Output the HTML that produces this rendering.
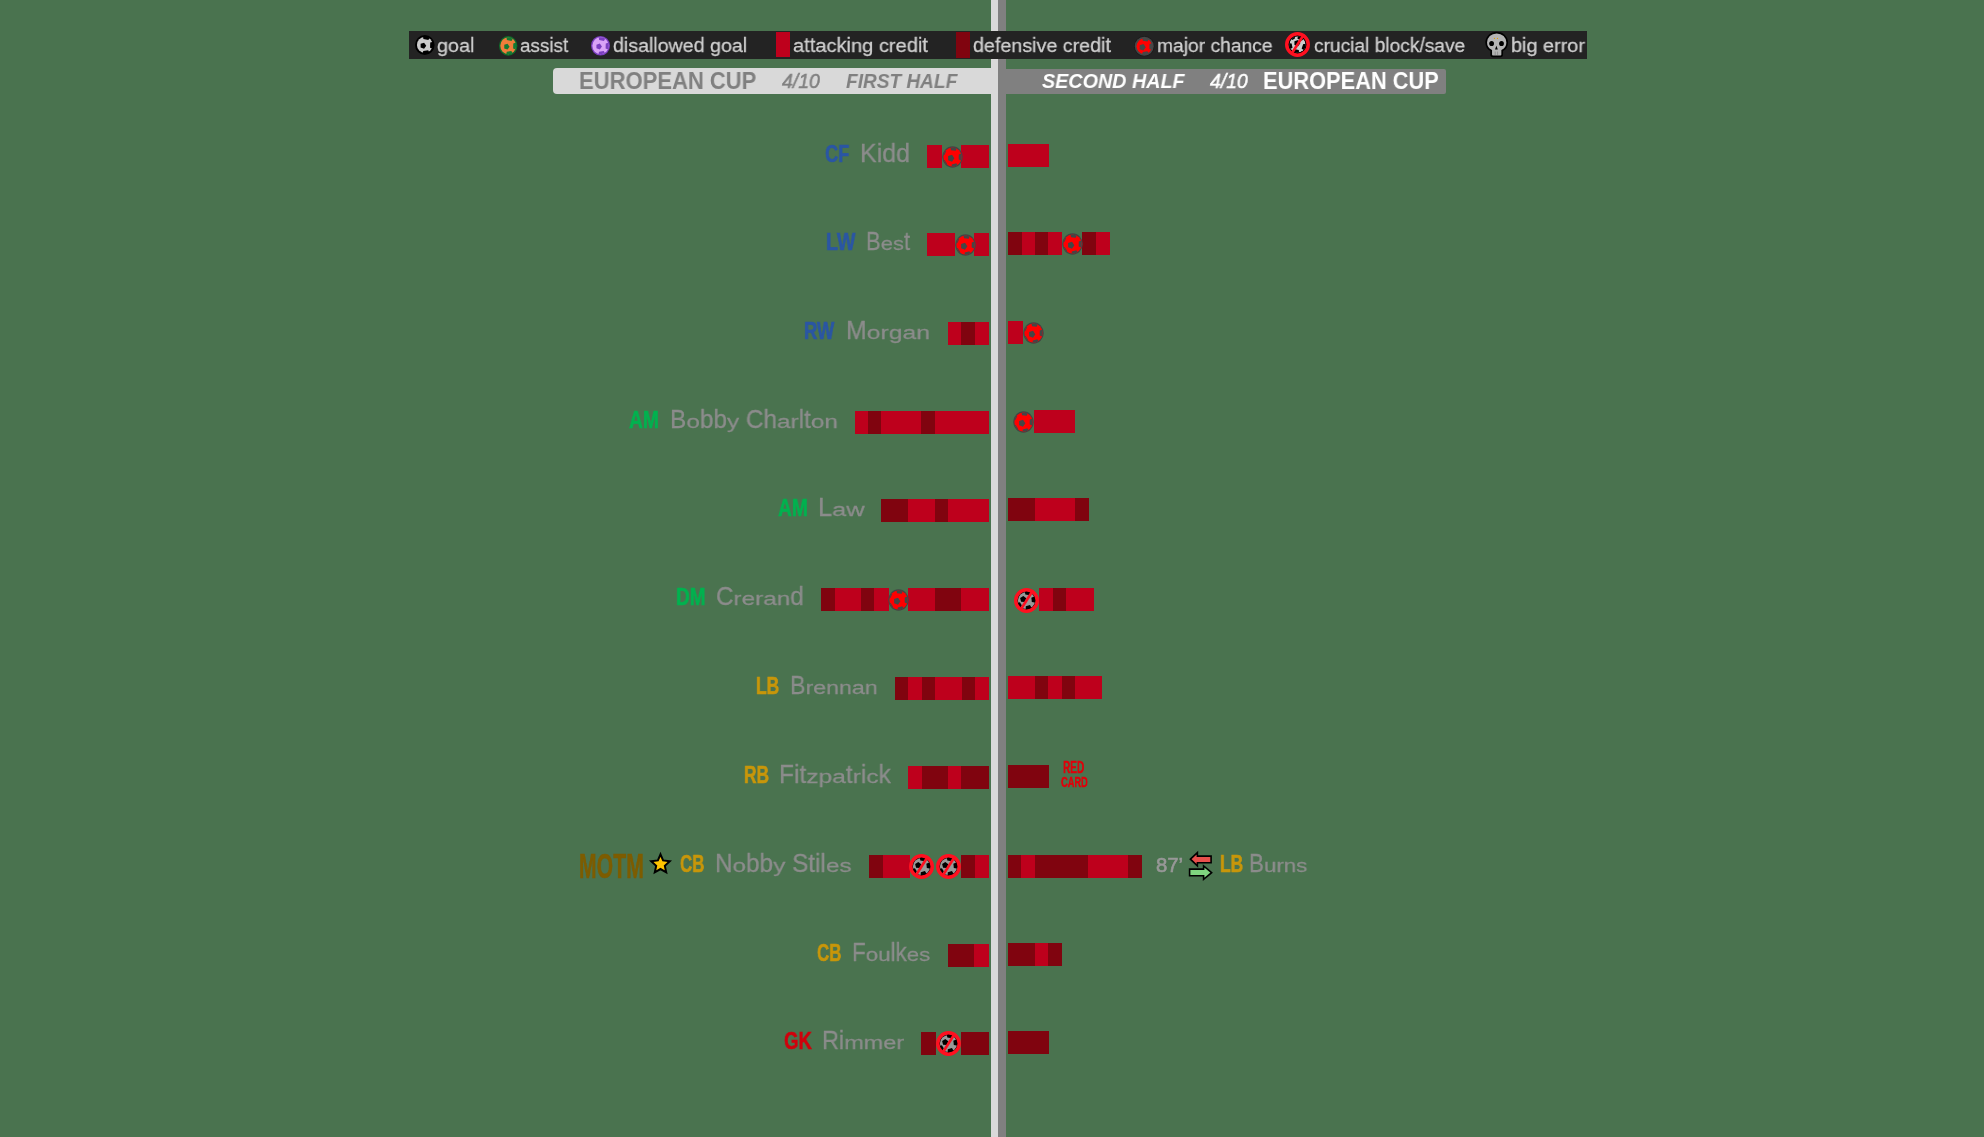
<!DOCTYPE html>
<html><head><meta charset="utf-8"><style>
html,body{margin:0;padding:0;}
body{width:1984px;height:1137px;background:#4a734f;position:relative;overflow:hidden;font-family:"Liberation Sans",sans-serif;}
.t{position:absolute;white-space:pre;line-height:1;transform-origin:0 0;will-change:transform;}
.q{display:inline-block;font-style:normal;transform:scaleY(0.73);transform-origin:0 84.65%;}
.q2{display:inline-block;font-style:normal;transform:scaleY(0.91);transform-origin:0 84.65%;}
.b{position:absolute;height:23px;}
.ic{position:absolute;overflow:visible;}
</style></head><body>
<svg width="0" height="0" style="position:absolute">
<defs>
<clipPath id="cc"><circle cx="10" cy="10" r="8.7"/></clipPath>
<clipPath id="cm"><circle cx="10" cy="10" r="8.3"/></clipPath>
<clipPath id="cb2"><circle cx="12.5" cy="12.5" r="8.2"/></clipPath>
<clipPath id="cb"><circle cx="12.5" cy="12.5" r="9.3"/></clipPath>
<g id="pat"><polygon points="11.50,10.80 9.29,13.84 5.71,12.68 5.71,8.92 9.29,7.76"/><polygon points="12.67,-3.21 16.17,0.60 13.63,5.10 8.56,4.08 7.97,-1.06"/><polygon points="23.40,10.45 20.22,14.53 15.36,12.77 15.53,7.60 20.50,6.16"/><polygon points="12.21,23.54 7.59,21.22 8.37,16.10 13.48,15.27 15.85,19.87"/><polygon points="-1.41,19.74 -1.71,15.88 1.87,14.39 4.39,17.34 2.36,20.65"/><polygon points="-1.85,1.24 1.85,0.07 4.10,3.23 1.79,6.35 -1.89,5.12"/></g>
<g id="mball"><circle cx="10" cy="10" r="9.8" fill="#454545"/><circle cx="10" cy="10" r="8.7" fill="#ff0000"/><g clip-path="url(#cc)" fill="#454545"><polygon points="11.80,11.10 9.52,14.24 5.83,13.04 5.83,9.16 9.52,7.96"/><polygon points="11.70,-2.77 14.94,0.31 13.01,4.34 8.58,3.75 7.77,-0.64"/><polygon points="22.80,10.14 20.13,13.73 15.90,12.30 15.95,7.83 20.21,6.50"/><polygon points="13.07,23.00 8.95,21.27 9.32,16.82 13.67,15.79 15.99,19.61"/><polygon points="-1.47,18.00 -1.39,13.89 2.55,12.69 4.90,16.07 2.42,19.35"/><polygon points="-2.13,3.67 1.35,1.95 4.06,4.72 2.27,8.15 -1.56,7.51"/></g></g>
<g id="block"><circle cx="12.5" cy="12.5" r="9.6" fill="#000"/><g clip-path="url(#cb)"><circle cx="12.5" cy="12.5" r="8.6" fill="#999999"/><g fill="#000"><polygon points="6.12,10.02 9.34,7.95 12.30,10.37 10.91,13.94 7.09,13.72"/><polygon points="14.48,0.36 17.48,3.39 15.53,7.18 11.32,6.50 10.67,2.28"/><polygon points="24.10,11.15 22.01,14.87 17.83,14.03 17.34,9.79 21.21,8.01"/><polygon points="15.58,24.00 11.60,22.47 11.82,18.21 15.94,17.11 18.26,20.69"/><polygon points="1.97,18.77 2.31,15.07 5.94,14.24 7.84,17.44 5.39,20.23"/></g></g><circle cx="12.5" cy="12.5" r="10.75" fill="none" stroke="#ff1020" stroke-width="3.5"/><line x1="17.6" y1="4.5" x2="7.4" y2="20.5" stroke="#ff1020" stroke-width="2.6"/></g>
<g id="lblock"><circle cx="12.5" cy="12.5" r="9.6" fill="#000"/><g clip-path="url(#cb2)"><circle cx="12.5" cy="12.5" r="8.2" fill="#cccccc"/><g fill="#000"><polygon points="15.29,11.15 13.05,14.23 9.43,13.05 9.43,9.25 13.05,8.07"/><polygon points="17.85,1.01 20.21,5.26 16.89,8.82 12.48,6.77 13.07,1.94"/><polygon points="24.50,16.77 20.49,19.52 16.63,16.55 18.26,11.97 23.12,12.10"/><polygon points="9.82,24.83 6.58,21.19 9.03,16.99 13.79,18.02 14.28,22.87"/><polygon points="0.70,15.06 2.41,11.19 6.62,11.61 7.52,15.75 3.86,17.88"/><polygon points="6.02,3.08 9.19,3.16 10.10,6.20 7.48,8.00 4.96,6.07"/></g></g><circle cx="12.5" cy="12.5" r="10.75" fill="none" stroke="#ff1020" stroke-width="3.5"/><line x1="17.6" y1="4.5" x2="7.4" y2="20.5" stroke="#ff1020" stroke-width="2.6"/></g>
</defs></svg>
<div style="position:absolute;left:991px;top:0;width:7px;height:1137px;background:#d9d9d9"></div>
<div style="position:absolute;left:998px;top:0;width:8px;height:1137px;background:#808080"></div>
<div style="position:absolute;left:409px;top:31px;width:1178px;height:28px;background:#232323"></div>
<div style="position:absolute;left:553px;top:68px;width:438px;height:26px;background:#d9d9d9;border-radius:4px 0 0 4px"></div>
<div style="position:absolute;left:1006px;top:69px;width:440px;height:25px;background:#808080;border-radius:0 2px 2px 0"></div>
<div style="position:absolute;left:776px;top:32px;width:14px;height:25px;background:#be001c"></div>
<div style="position:absolute;left:956px;top:32px;width:14px;height:26px;background:#80040f"></div>
<div class="b" style="left:927px;top:145px;width:15px;background:#be001c"></div>
<div class="b" style="left:961px;top:145px;width:28px;background:#be001c"></div>
<div class="b" style="left:1008px;top:144px;width:41px;background:#be001c"></div>
<div class="b" style="left:927px;top:233px;width:28px;background:#be001c"></div>
<div class="b" style="left:974px;top:233px;width:15px;background:#be001c"></div>
<div class="b" style="left:1008px;top:232px;width:14px;background:#80040f"></div>
<div class="b" style="left:1022px;top:232px;width:13px;background:#be001c"></div>
<div class="b" style="left:1035px;top:232px;width:13px;background:#80040f"></div>
<div class="b" style="left:1048px;top:232px;width:14px;background:#be001c"></div>
<div class="b" style="left:1082px;top:232px;width:14px;background:#80040f"></div>
<div class="b" style="left:1096px;top:232px;width:14px;background:#be001c"></div>
<div class="b" style="left:948px;top:322px;width:13px;background:#be001c"></div>
<div class="b" style="left:961px;top:322px;width:14px;background:#80040f"></div>
<div class="b" style="left:975px;top:322px;width:14px;background:#be001c"></div>
<div class="b" style="left:1008px;top:321px;width:15px;background:#be001c"></div>
<div class="b" style="left:855px;top:411px;width:13px;background:#be001c"></div>
<div class="b" style="left:868px;top:411px;width:13px;background:#80040f"></div>
<div class="b" style="left:881px;top:411px;width:40px;background:#be001c"></div>
<div class="b" style="left:921px;top:411px;width:14px;background:#80040f"></div>
<div class="b" style="left:935px;top:411px;width:54px;background:#be001c"></div>
<div class="b" style="left:1034px;top:410px;width:41px;background:#be001c"></div>
<div class="b" style="left:881px;top:499px;width:27px;background:#80040f"></div>
<div class="b" style="left:908px;top:499px;width:27px;background:#be001c"></div>
<div class="b" style="left:935px;top:499px;width:13px;background:#80040f"></div>
<div class="b" style="left:948px;top:499px;width:41px;background:#be001c"></div>
<div class="b" style="left:1008px;top:498px;width:27px;background:#80040f"></div>
<div class="b" style="left:1035px;top:498px;width:40px;background:#be001c"></div>
<div class="b" style="left:1075px;top:498px;width:14px;background:#80040f"></div>
<div class="b" style="left:821px;top:588px;width:14px;background:#80040f"></div>
<div class="b" style="left:835px;top:588px;width:26px;background:#be001c"></div>
<div class="b" style="left:861px;top:588px;width:13px;background:#80040f"></div>
<div class="b" style="left:874px;top:588px;width:15px;background:#be001c"></div>
<div class="b" style="left:908px;top:588px;width:27px;background:#be001c"></div>
<div class="b" style="left:935px;top:588px;width:26px;background:#80040f"></div>
<div class="b" style="left:961px;top:588px;width:28px;background:#be001c"></div>
<div class="b" style="left:1039px;top:588px;width:14px;background:#be001c"></div>
<div class="b" style="left:1053px;top:588px;width:13px;background:#80040f"></div>
<div class="b" style="left:1066px;top:588px;width:28px;background:#be001c"></div>
<div class="b" style="left:895px;top:677px;width:13px;background:#80040f"></div>
<div class="b" style="left:908px;top:677px;width:14px;background:#be001c"></div>
<div class="b" style="left:922px;top:677px;width:13px;background:#80040f"></div>
<div class="b" style="left:935px;top:677px;width:27px;background:#be001c"></div>
<div class="b" style="left:962px;top:677px;width:13px;background:#80040f"></div>
<div class="b" style="left:975px;top:677px;width:14px;background:#be001c"></div>
<div class="b" style="left:1008px;top:676px;width:27px;background:#be001c"></div>
<div class="b" style="left:1035px;top:676px;width:13px;background:#80040f"></div>
<div class="b" style="left:1048px;top:676px;width:14px;background:#be001c"></div>
<div class="b" style="left:1062px;top:676px;width:13px;background:#80040f"></div>
<div class="b" style="left:1075px;top:676px;width:27px;background:#be001c"></div>
<div class="b" style="left:908px;top:766px;width:14px;background:#be001c"></div>
<div class="b" style="left:922px;top:766px;width:26px;background:#80040f"></div>
<div class="b" style="left:948px;top:766px;width:13px;background:#be001c"></div>
<div class="b" style="left:961px;top:766px;width:28px;background:#80040f"></div>
<div class="b" style="left:1008px;top:765px;width:41px;background:#80040f"></div>
<div class="b" style="left:869px;top:855px;width:14px;background:#80040f"></div>
<div class="b" style="left:883px;top:855px;width:27px;background:#be001c"></div>
<div class="b" style="left:961px;top:855px;width:14px;background:#80040f"></div>
<div class="b" style="left:975px;top:855px;width:14px;background:#be001c"></div>
<div class="b" style="left:1008px;top:855px;width:13px;background:#80040f"></div>
<div class="b" style="left:1021px;top:855px;width:14px;background:#be001c"></div>
<div class="b" style="left:1035px;top:855px;width:53px;background:#80040f"></div>
<div class="b" style="left:1088px;top:855px;width:40px;background:#be001c"></div>
<div class="b" style="left:1128px;top:855px;width:14px;background:#80040f"></div>
<div class="b" style="left:948px;top:944px;width:26px;background:#80040f"></div>
<div class="b" style="left:974px;top:944px;width:15px;background:#be001c"></div>
<div class="b" style="left:1008px;top:943px;width:27px;background:#80040f"></div>
<div class="b" style="left:1035px;top:943px;width:13px;background:#be001c"></div>
<div class="b" style="left:1048px;top:943px;width:14px;background:#80040f"></div>
<div class="b" style="left:921px;top:1032px;width:15px;background:#80040f"></div>
<div class="b" style="left:961px;top:1032px;width:28px;background:#80040f"></div>
<div class="b" style="left:1008px;top:1031px;width:41px;background:#80040f"></div>
<svg class="ic" style="left:941.5px;top:145.5px;width:21px;height:22px" viewBox="0 0 20 20" preserveAspectRatio="none"><use href="#mball"/></svg>
<svg class="ic" style="left:954.5px;top:233.5px;width:21px;height:22px" viewBox="0 0 20 20" preserveAspectRatio="none"><use href="#mball"/></svg>
<svg class="ic" style="left:1061.5px;top:232.5px;width:21px;height:22px" viewBox="0 0 20 20" preserveAspectRatio="none"><use href="#mball"/></svg>
<svg class="ic" style="left:1022.5px;top:321.5px;width:21px;height:22px" viewBox="0 0 20 20" preserveAspectRatio="none"><use href="#mball"/></svg>
<svg class="ic" style="left:1013.0px;top:410.5px;width:21px;height:22px" viewBox="0 0 20 20" preserveAspectRatio="none"><use href="#mball"/></svg>
<svg class="ic" style="left:888.0px;top:588.5px;width:21px;height:22px" viewBox="0 0 20 20" preserveAspectRatio="none"><use href="#mball"/></svg>
<svg class="ic" style="left:1014.0px;top:588.0px;width:25px;height:25px" viewBox="0 0 25 25"><use href="#block"/></svg>
<svg class="ic" style="left:909.0px;top:854.0px;width:25px;height:25px" viewBox="0 0 25 25"><use href="#block"/></svg>
<svg class="ic" style="left:936.0px;top:854.0px;width:25px;height:25px" viewBox="0 0 25 25"><use href="#block"/></svg>
<svg class="ic" style="left:936.0px;top:1031.0px;width:25px;height:25px" viewBox="0 0 25 25"><use href="#block"/></svg>
<svg class="ic" style="left:415px;top:35.4px;width:19.6px;height:19.9px" viewBox="0 0 20 20" preserveAspectRatio="none"><circle cx="10" cy="10" r="10" fill="#000"/><circle cx="10" cy="10" r="8.0" fill="#cccccc"/><g clip-path="url(#cc)" fill="#000"><use href="#pat"/></g></svg>
<svg class="ic" style="left:498.6px;top:36.2px;width:18.4px;height:19.7px" viewBox="0 0 20 20" preserveAspectRatio="none"><circle cx="10" cy="10" r="10" fill="#0f6e2c"/><circle cx="10" cy="10" r="8.6" fill="#f07d3a"/><g clip-path="url(#cc)" fill="#137a33"><use href="#pat"/></g></svg>
<svg class="ic" style="left:591px;top:36px;width:19.0px;height:19.5px" viewBox="0 0 20 20" preserveAspectRatio="none"><circle cx="10" cy="10" r="10" fill="#7b3fc0"/><circle cx="10" cy="10" r="8.6" fill="#d9a2f7"/><g clip-path="url(#cc)" fill="#7b3fc0"><use href="#pat"/></g></svg>
<svg class="ic" style="left:1133.5px;top:35.5px;width:20.5px;height:20.5px" viewBox="0 0 20 20"><circle cx="10" cy="10" r="10" fill="#1c1c1c"/><circle cx="10" cy="10" r="9.2" fill="#474747"/><circle cx="10" cy="10" r="7.6" fill="#ff0000"/><g clip-path="url(#cm)" fill="#474747"><polygon points="11.50,10.90 9.22,14.04 5.53,12.84 5.53,8.96 9.22,7.76"/><polygon points="12.22,-2.13 15.46,1.27 13.23,5.41 8.60,4.56 7.98,-0.10"/><polygon points="22.30,10.44 19.40,14.15 14.98,12.53 15.15,7.83 19.67,6.54"/><polygon points="11.91,22.35 7.73,20.20 8.48,15.56 13.13,14.84 15.25,19.04"/><polygon points="-0.34,18.77 -0.62,15.02 2.86,13.59 5.29,16.46 3.31,19.66"/><polygon points="-0.67,2.10 2.92,0.97 5.10,4.03 2.86,7.05 -0.71,5.86"/></g></svg>
<svg class="ic" style="left:1285px;top:32px;width:25px;height:25px" viewBox="0 0 25 25"><use href="#lblock"/></svg>
<svg class="ic" style="left:1482px;top:30px;width:30px;height:30px" viewBox="0 0 30 30">
<path d="M14.7,2.6 C20.6,2.6 25.2,7 25.2,12.6 C25.2,16.4 23.6,19 20.2,20.6 L20.2,24.6 C20.2,25.9 19.4,26.4 18.4,26.4 L11,26.4 C10,26.4 9.2,25.9 9.2,24.6 L9.2,20.6 C5.8,19 4.2,16.4 4.2,12.6 C4.2,7 8.8,2.6 14.7,2.6 Z" fill="#b4b4b4" stroke="#000" stroke-width="1.7"/>
<ellipse cx="9.6" cy="13.5" rx="2.4" ry="2.6" fill="#000"/><ellipse cx="19.5" cy="13.5" rx="2.4" ry="2.6" fill="#000"/>
<path d="M14.4,15.8 L15.8,19.4 L13,19.4 Z" fill="#000"/>
<line x1="13.2" y1="21.6" x2="13.2" y2="25" stroke="#888" stroke-width="0.8"/><line x1="15.6" y1="21.6" x2="15.6" y2="25" stroke="#888" stroke-width="0.8"/>
<circle cx="12.5" cy="8.4" r="0.6" fill="#e0a000"/><circle cx="15.5" cy="8.4" r="0.6" fill="#e0a000"/>
</svg>
<svg class="ic" style="left:644px;top:848px;width:34px;height:32px" viewBox="0 0 34 32">
<polygon points="16.50,6.30 19.08,12.37 25.79,13.29 20.82,17.89 22.20,24.33 16.50,21.02 10.80,24.33 12.18,17.89 7.21,13.29 13.92,12.37" fill="#ffc400" stroke="#000" stroke-width="2.0" stroke-linejoin="miter"/>
</svg>
<svg class="ic" style="left:1184px;top:848px;width:34px;height:36px" viewBox="0 0 34 36">
<polygon points="6.4,11.2 13.4,4.6 13.4,8.1 27.1,8.1 27.1,14.7 13.4,14.7 13.4,17.8" fill="#e8504c" stroke="#000" stroke-width="1.6"/>
<polygon points="27.6,24.7 19.6,17.9 19.6,21.1 5.6,21.1 5.6,27.7 19.6,27.7 19.6,31.4" fill="#7fd47f" stroke="#000" stroke-width="1.6"/>
</svg>
<span class="t" style="left:437.40px;top:34.50px;font-size:20.83px;transform:scaleX(0.9502);color:#cfcfcf;;-webkit-text-stroke:0.3px #cfcfcf"><i class="q2">goa</i>l</span>
<span class="t" style="left:520.02px;top:34.50px;font-size:20.83px;transform:scaleX(0.9053);color:#cfcfcf;;-webkit-text-stroke:0.3px #cfcfcf"><i class="q2">ass</i>i<i class="q2">s</i>t</span>
<span class="t" style="left:613.22px;top:34.50px;font-size:20.83px;transform:scaleX(0.9415);color:#cfcfcf;;-webkit-text-stroke:0.3px #cfcfcf">di<i class="q2">sa</i>ll<i class="q2">owe</i>d <i class="q2">goa</i>l</span>
<span class="t" style="left:793.20px;top:34.50px;font-size:20.83px;transform:scaleX(0.9629);color:#cfcfcf;;-webkit-text-stroke:0.3px #cfcfcf"><i class="q2">a</i>tt<i class="q2">ac</i>ki<i class="q2">ng</i> <i class="q2">cre</i>dit</span>
<span class="t" style="left:973.21px;top:34.50px;font-size:20.83px;transform:scaleX(0.9448);color:#cfcfcf;;-webkit-text-stroke:0.3px #cfcfcf">d<i class="q2">e</i>f<i class="q2">ens</i>i<i class="q2">ve</i> <i class="q2">cre</i>dit</span>
<span class="t" style="left:1157.02px;top:34.50px;font-size:20.83px;transform:scaleX(0.9237);color:#cfcfcf;;-webkit-text-stroke:0.3px #cfcfcf"><i class="q2">ma</i>j<i class="q2">or</i> <i class="q2">c</i>h<i class="q2">ance</i></span>
<span class="t" style="left:1314.43px;top:34.50px;font-size:20.83px;transform:scaleX(0.9196);color:#cfcfcf;;-webkit-text-stroke:0.3px #cfcfcf"><i class="q2">cruc</i>i<i class="q2">a</i>l bl<i class="q2">oc</i>k/<i class="q2">save</i></span>
<span class="t" style="left:1510.61px;top:34.50px;font-size:20.83px;transform:scaleX(0.9522);color:#cfcfcf;;-webkit-text-stroke:0.3px #cfcfcf">bi<i class="q2">g</i> <i class="q2">error</i></span>
<span class="t" style="left:578.96px;top:69.54px;font-size:23.19px;transform:scaleX(0.9495);color:#808080;font-weight:bold;">EUROPEAN CUP</span>
<span class="t" style="left:781.51px;top:70.71px;font-size:20.59px;transform:scaleX(0.9469);color:#808080;font-style:italic;-webkit-text-stroke:0.5px #808080">4/10</span>
<span class="t" style="left:845.92px;top:70.75px;font-size:20.29px;transform:scaleX(0.9401);color:#808080;font-weight:bold;font-style:italic;">FIRST HALF</span>
<span class="t" style="left:1041.80px;top:70.75px;font-size:20.29px;transform:scaleX(0.9734);color:#ffffff;font-weight:bold;font-style:italic;">SECOND HALF</span>
<span class="t" style="left:1209.61px;top:70.71px;font-size:20.59px;transform:scaleX(0.9444);color:#ffffff;font-style:italic;-webkit-text-stroke:0.5px #ffffff">4/10</span>
<span class="t" style="left:1262.97px;top:69.54px;font-size:23.19px;transform:scaleX(0.9412);color:#ffffff;font-weight:bold;">EUROPEAN CUP</span>
<span class="t" style="left:825.27px;top:142.11px;font-size:23.94px;transform:scaleX(0.7624);color:#2a56a4;font-weight:bold;-webkit-text-stroke:0.6px #2a56a4">CF</span>
<span class="t" style="left:859.60px;top:139.83px;font-size:26.09px;transform:scaleX(0.9565);color:#8c8c8c;;-webkit-text-stroke:0.35px #8c8c8c">Kidd</span>
<span class="t" style="left:825.63px;top:229.76px;font-size:24.64px;transform:scaleX(0.7947);color:#2a56a4;font-weight:bold;-webkit-text-stroke:0.6px #2a56a4">LW</span>
<span class="t" style="left:866.24px;top:227.83px;font-size:26.09px;transform:scaleX(0.8429);color:#8c8c8c;;-webkit-text-stroke:0.35px #8c8c8c">B<i class="q">es</i>t</span>
<span class="t" style="left:803.71px;top:318.76px;font-size:24.64px;transform:scaleX(0.7466);color:#2a56a4;font-weight:bold;-webkit-text-stroke:0.6px #2a56a4">RW</span>
<span class="t" style="left:846.02px;top:316.83px;font-size:26.09px;transform:scaleX(0.9497);color:#8c8c8c;;-webkit-text-stroke:0.35px #8c8c8c">M<i class="q">organ</i></span>
<span class="t" style="left:629.12px;top:407.76px;font-size:24.64px;transform:scaleX(0.7793);color:#00b24f;font-weight:bold;-webkit-text-stroke:0.6px #00b24f">AM</span>
<span class="t" style="left:670.05px;top:405.83px;font-size:26.09px;transform:scaleX(0.9343);color:#8c8c8c;;-webkit-text-stroke:0.35px #8c8c8c">B<i class="q">o</i>bb<i class="q">y</i> Ch<i class="q">ar</i>lt<i class="q">on</i></span>
<span class="t" style="left:778.12px;top:495.76px;font-size:24.64px;transform:scaleX(0.7793);color:#00b24f;font-weight:bold;-webkit-text-stroke:0.6px #00b24f">AM</span>
<span class="t" style="left:817.97px;top:493.83px;font-size:26.09px;transform:scaleX(0.9747);color:#8c8c8c;;-webkit-text-stroke:0.35px #8c8c8c">L<i class="q">aw</i></span>
<span class="t" style="left:675.67px;top:584.76px;font-size:24.64px;transform:scaleX(0.7727);color:#00b24f;font-weight:bold;-webkit-text-stroke:0.6px #00b24f">DM</span>
<span class="t" style="left:715.79px;top:582.83px;font-size:26.09px;transform:scaleX(0.9310);color:#8c8c8c;;-webkit-text-stroke:0.35px #8c8c8c">C<i class="q">reran</i>d</span>
<span class="t" style="left:755.78px;top:673.76px;font-size:24.64px;transform:scaleX(0.7059);color:#c8960a;font-weight:bold;-webkit-text-stroke:0.6px #c8960a">LB</span>
<span class="t" style="left:790.14px;top:671.83px;font-size:26.09px;transform:scaleX(0.8904);color:#8c8c8c;;-webkit-text-stroke:0.35px #8c8c8c">B<i class="q">rennan</i></span>
<span class="t" style="left:743.79px;top:762.76px;font-size:24.64px;transform:scaleX(0.7043);color:#c8960a;font-weight:bold;-webkit-text-stroke:0.6px #c8960a">RB</span>
<span class="t" style="left:779.04px;top:760.83px;font-size:26.09px;transform:scaleX(0.9414);color:#8c8c8c;;-webkit-text-stroke:0.35px #8c8c8c">Fit<i class="q">zpa</i>t<i class="q">r</i>i<i class="q">c</i>k</span>
<span class="t" style="left:680.32px;top:852.11px;font-size:23.94px;transform:scaleX(0.7063);color:#c8960a;font-weight:bold;-webkit-text-stroke:0.6px #c8960a">CB</span>
<span class="t" style="left:715.05px;top:849.83px;font-size:26.09px;transform:scaleX(0.9322);color:#8c8c8c;;-webkit-text-stroke:0.35px #8c8c8c">N<i class="q">o</i>bb<i class="q">y</i> Stil<i class="q">es</i></span>
<span class="t" style="left:817.32px;top:941.11px;font-size:23.94px;transform:scaleX(0.7063);color:#c8960a;font-weight:bold;-webkit-text-stroke:0.6px #c8960a">CB</span>
<span class="t" style="left:852.21px;top:938.83px;font-size:26.09px;transform:scaleX(0.8575);color:#8c8c8c;;-webkit-text-stroke:0.35px #8c8c8c">F<i class="q">ou</i>lk<i class="q">es</i></span>
<span class="t" style="left:784.26px;top:1029.11px;font-size:23.94px;transform:scaleX(0.7777);color:#d0000c;font-weight:bold;-webkit-text-stroke:0.6px #d0000c">GK</span>
<span class="t" style="left:822.12px;top:1026.83px;font-size:26.09px;transform:scaleX(0.9001);color:#8c8c8c;;-webkit-text-stroke:0.35px #8c8c8c">Ri<i class="q">mmer</i></span>
<span class="t" style="left:1219.78px;top:851.76px;font-size:24.64px;transform:scaleX(0.7059);color:#c8960a;font-weight:bold;-webkit-text-stroke:0.6px #c8960a">LB</span>
<span class="t" style="left:1249.01px;top:849.83px;font-size:26.09px;transform:scaleX(0.8569);color:#8c8c8c;;-webkit-text-stroke:0.35px #8c8c8c">B<i class="q">urns</i></span>
<span class="t" style="left:1156.19px;top:855.74px;font-size:19.72px;transform:scaleX(1.0308);color:#989898;;-webkit-text-stroke:0.6px #989898">87’</span>
<span class="t" style="left:579.21px;top:847.72px;font-size:35.21px;transform:scaleX(0.6032);color:#7d5c00;font-weight:bold;-webkit-text-stroke:0.5px #7d5c00">MOTM</span>
<span class="t" style="left:1063.30px;top:759.70px;font-size:15.94px;transform:scaleX(0.6273);color:#e0000a;font-weight:bold;-webkit-text-stroke:0.5px #e0000a">RED</span>
<span class="t" style="left:1060.63px;top:773.68px;font-size:15.49px;transform:scaleX(0.5997);color:#e0000a;font-weight:bold;-webkit-text-stroke:0.5px #e0000a">CARD</span>
</body></html>
